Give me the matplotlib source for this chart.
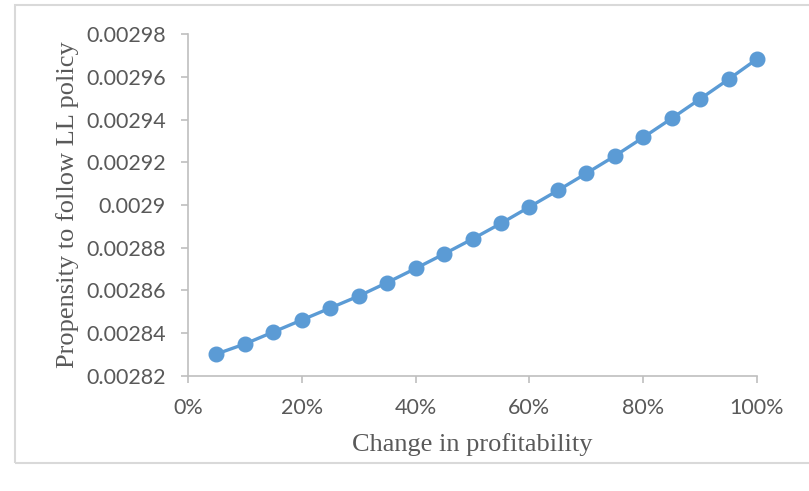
import matplotlib.pyplot as plt
from matplotlib.patches import Rectangle
from matplotlib.ticker import FuncFormatter, MultipleLocator

# change in profitability (fraction) and the propensity at each step
change = [0.05, 0.10, 0.15, 0.20, 0.25, 0.30, 0.35, 0.40, 0.45, 0.50,
          0.55, 0.60, 0.65, 0.70, 0.75, 0.80, 0.85, 0.90, 0.95, 1.00]
propensity = [0.0028303, 0.0028350, 0.0028406, 0.0028462, 0.0028518,
              0.0028574, 0.0028637, 0.0028703, 0.0028771, 0.0028841,
              0.0028914, 0.0028991, 0.0029068, 0.0029148, 0.0029229,
              0.0029316, 0.0029405, 0.0029496, 0.0029588, 0.0029683]

grey = '#595959'
axis_grey = '#bfbfbf'
blue = '#5b9bd5'

fig = plt.figure(figsize=(8.09, 4.91), dpi=100)
# light frame around the chart area
fig.patches.append(Rectangle((15 / 809, 1 - 463 / 491), 1.0, (463 - 5) / 491,
                             transform=fig.transFigure, fill=False,
                             edgecolor='#d9d9d9', linewidth=1.5))

ax = fig.add_axes([188 / 809, 1 - 376 / 491, (757 - 188) / 809, (376 - 34) / 491])
ax.plot(change, propensity, color=blue, linewidth=2.4, marker='o',
        markersize=10.5, markerfacecolor=blue, markeredgecolor=blue,
        clip_on=False, zorder=3)

ax.set_xlim(0, 1.0)
ax.set_ylim(0.00282, 0.00298)
ax.xaxis.set_major_locator(MultipleLocator(0.2))
ax.yaxis.set_major_locator(MultipleLocator(0.00002))
ax.xaxis.set_major_formatter(FuncFormatter(lambda v, p: f"{v * 100:.0f}%"))
ax.yaxis.set_major_formatter(FuncFormatter(lambda v, p: f"{v:.5f}".rstrip('0')))

for s in ['top', 'right']:
    ax.spines[s].set_visible(False)
for s in ['left', 'bottom']:
    ax.spines[s].set_color(axis_grey)
    ax.spines[s].set_linewidth(1.2)
ax.tick_params(axis='both', colors=axis_grey, length=5, width=1.2,
               labelcolor=grey, labelsize=15.5)
ax.tick_params(axis='x', pad=11)
ax.tick_params(axis='y', pad=11)
for lbl in ax.get_xticklabels() + ax.get_yticklabels():
    lbl.set_family('Lato')

ax.set_xlabel('Change in profitability', family='Liberation Serif',
              fontsize=19, color=grey, labelpad=11)
ax.set_ylabel('Propensity to follow LL policy', family='Liberation Serif',
              fontsize=19, color=grey, labelpad=5)

fig.savefig('out.png', dpi=100)
